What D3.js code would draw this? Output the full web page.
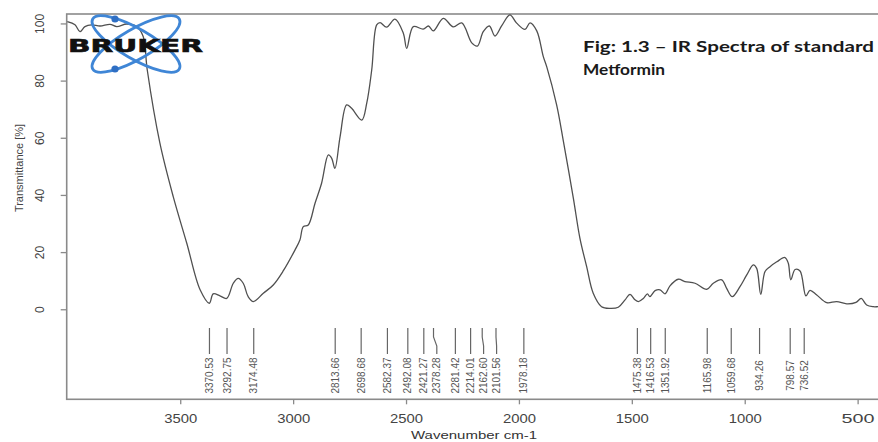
<!DOCTYPE html>
<html>
<head>
	<meta charset="utf-8">
	<script type="text/javascript" src="https://d3js.org/d3.v7.min.js"></script>
	<title>IR Spectra - Metformin</title>
	<style>
		body { margin: 0; background: #fff; }
	</style>
</head>
<body>
<script type="text/javascript">

	/*------ data ------*/

	var wavenumber = [4000, 3966, 3944, 3922, 3892, 3855, 3811, 3781, 3737, 3693, 3664, 3646, 3590, 3531, 3471, 3412,
		3371, 3354, 3324, 3294, 3265, 3243, 3221, 3199, 3176, 3132, 3088, 3044, 2992, 2970, 2955, 2933, 2903, 2874,
		2844, 2829, 2815, 2792, 2763, 2741, 2696, 2674, 2652, 2630, 2615, 2586, 2549, 2512, 2497, 2468, 2424, 2401,
		2379, 2335, 2291, 2253, 2209, 2184, 2158, 2131, 2106, 2076, 2040, 2010, 1973, 1951, 1921, 1892, 1877, 1833,
		1804, 1759, 1730, 1700, 1671, 1634, 1597, 1560, 1530, 1508, 1486, 1471, 1449, 1431, 1420, 1397, 1375, 1353,
		1331, 1294, 1265, 1220, 1168, 1139, 1102, 1080, 1055, 1021, 991, 962, 947, 929, 910, 888, 858, 822, 807, 796,
		777, 755, 729, 711, 681, 637, 593, 548, 507, 484, 460, 431, 410, 400];

	var transmittance = [100.6, 99.5, 97.1, 98.9, 99.5, 99.1, 99.7, 98.9, 99.8, 98.9, 95.4, 83.7, 58.1, 39.4, 23.1, 6.8,
		2.1, 5.4, 4.7, 3.8, 9.1, 10.8, 9.1, 4.4, 2.7, 5.6, 8.5, 13.4, 20.7, 24.2, 28.9, 29.5, 37.1, 44.1,
		54.0, 52.8, 49.3, 60.4, 71.5, 70.3, 66.2, 72.1, 83.7, 99.5, 100.3, 98.7, 101.5, 96.6, 91.3, 98.9, 98.0, 99.1,
		97.4, 101.8, 98.8, 100.2, 93.2, 92.1, 97.1, 99.1, 95.6, 99.2, 103.0, 100.1, 97.9, 100.2, 97.4, 88.4, 84.9, 71.5,
		59.2, 38.9, 24.9, 14.9, 5.6, 0.9, 0.3, 0.7, 3.3, 5.2, 3.3, 2.7, 3.8, 5.4, 4.4, 6.5, 6.8, 5.4,
		8.2, 10.5, 9.7, 9.1, 7.0, 9.1, 10.3, 7.3, 4.4, 7.9, 12.0, 15.5, 14.3, 5.2, 13.2, 14.9, 16.6, 18.1, 16.1, 10.3,
		13.9, 13.4, 4.7, 6.6, 5.0, 2.3, 2.7, 1.9, 2.4, 3.8, 1.5, 0.9, 0.9, 0.9];

	var peaks = [3370.53, 3292.75, 3174.48, 2813.66, 2698.68, 2582.37, 2492.08, 2421.27, 2378.28, 2281.42, 2214.01,
		2162.60, 2101.56, 1978.18, 1475.38, 1416.53, 1351.92, 1165.98, 1059.68, 934.26, 798.57, 736.52];

	var xTicks = [3500, 3000, 2500, 2000, 1500, 1000, 500];
	var yTicks = [0, 20, 40, 60, 80, 100];

	var titleLines = ['Fig: 1.3 \u2013 IR Spectra of standard', 'Metformin'];

	/*------ layout ------*/

	var svgWidth = 878;
	var svgHeight = 442;
	var plotLeft = 66.7, plotRight = 880.2, plotTop = 14, plotBottom = 399.3;

	var xScale = d3.scaleLinear().domain([4002.8, 400]).range([plotLeft, plotRight]);
	var yScale = d3.scaleLinear().domain([-31.5, 103.3]).range([plotBottom, plotTop]);

	var svg = d3.select('body')
		.append('svg')
		.attr('width', svgWidth)
		.attr('height', svgHeight)
		.style('font-family', '"Liberation Sans", Arial, sans-serif');

	svg.append('clipPath').attr('id', 'plotclip')
		.append('rect')
		.attr('x', plotLeft).attr('y', plotTop)
		.attr('width', plotRight - plotLeft).attr('height', plotBottom - plotTop);

	renderFrame();
	renderAxes();
	renderSpectrum();
	renderPeaks();
	renderLogo();
	renderTitle();

	function renderFrame() {
		svg.append('rect')
			.attr('x', plotLeft).attr('y', plotTop)
			.attr('width', plotRight - plotLeft).attr('height', plotBottom - plotTop)
			.attr('fill', 'none')
			.attr('stroke', '#8a8a8a')
			.attr('stroke-width', 1.6);
	}

	function renderAxes() {
		var xAxis = svg.append('g')
			.attr('transform', 'translate(0,' + plotBottom + ')')
			.call(d3.axisBottom(xScale).tickValues(xTicks).tickSize(5).tickFormat(d3.format('d')));
		xAxis.select('.domain').remove();
		xAxis.selectAll('line').attr('stroke', '#8a8a8a').attr('stroke-width', 1.3);
		xAxis.selectAll('text')
			.attr('y', 14)
			.attr('fill', '#444')
			.attr('font-size', 13)
			.attr('font-family', '"Liberation Sans", Arial, sans-serif')
			.attr('textLength', 33)
			.attr('lengthAdjust', 'spacingAndGlyphs');

		var yAxis = svg.append('g')
			.attr('transform', 'translate(' + plotLeft + ',0)')
			.call(d3.axisLeft(yScale).tickValues(yTicks).tickSize(6));
		yAxis.select('.domain').remove();
		yAxis.selectAll('line').attr('stroke', '#8a8a8a').attr('stroke-width', 1.3);
		yAxis.selectAll('text')
			.attr('x', null).attr('dy', null)
			.attr('transform', 'translate(-27,0) rotate(-90)')
			.attr('text-anchor', 'middle')
			.attr('dominant-baseline', 'central')
			.attr('fill', '#444')
			.attr('font-size', 12)
			.attr('font-family', '"Liberation Sans", Arial, sans-serif');

		svg.append('text')
			.attr('x', 474).attr('y', 438.5)
			.attr('text-anchor', 'middle')
			.attr('font-size', 11.5)
			.attr('fill', '#333')
			.attr('textLength', 126)
			.attr('lengthAdjust', 'spacingAndGlyphs')
			.text('Wavenumber cm-1');

		svg.append('text')
			.attr('transform', 'translate(19,168) rotate(-90)')
			.attr('text-anchor', 'middle')
			.attr('dominant-baseline', 'central')
			.attr('font-size', 11)
			.attr('fill', '#444')
			.text('Transmittance [%]');
	}

	function renderSpectrum() {
		var points = wavenumber.map(function (w, i) { return [w, transmittance[i]]; });
		var line = d3.line()
			.x(function (d) { return xScale(d[0]); })
			.y(function (d) { return yScale(d[1]); })
			.curve(d3.curveCatmullRom.alpha(0.5));
		svg.append('path')
			.datum(points)
			.attr('clip-path', 'url(#plotclip)')
			.attr('d', line)
			.attr('fill', 'none')
			.attr('stroke', '#505050')
			.attr('stroke-width', 1.3)
			.attr('stroke-linejoin', 'round');
	}

	function renderPeaks() {
		// push labels apart when peaks are too close, like the instrument software does
		var minGap = 13;
		var items = peaks.map(function (p) { return { value: p, x: xScale(p) }; })
			.sort(function (a, b) { return a.x - b.x; });
		items.forEach(function (d, i) {
			d.lx = i === 0 ? d.x : Math.max(d.x, items[i - 1].lx + minGap);
		});

		var g = svg.append('g');
		g.selectAll('path')
			.data(items)
			.enter()
			.append('path')
			.attr('d', function (d) {
				return 'M' + d.x + ',328 V337 L' + d.lx + ',346 V354';
			})
			.attr('fill', 'none')
			.attr('stroke', '#666')
			.attr('stroke-width', 1.2);

		g.selectAll('text')
			.data(items)
			.enter()
			.append('text')
			.attr('transform', function (d) { return 'translate(' + d.lx + ',375.5) rotate(-90)'; })
			.attr('text-anchor', 'middle')
			.attr('dominant-baseline', 'central')
			.attr('font-size', 10)
			.attr('fill', '#555')
			.text(function (d) { return d.value.toFixed(2); });
	}

	function renderLogo() {
		var logo = svg.append('g').attr('transform', 'translate(136,44)');
		[-30, 30].forEach(function (a) {
			logo.append('ellipse')
				.attr('rx', 50).attr('ry', 15)
				.attr('transform', 'rotate(' + a + ')')
				.attr('fill', 'none')
				.attr('stroke', '#3f86d6')
				.attr('stroke-width', 2.8);
		});
		logo.append('circle').attr('cx', -21).attr('cy', -25).attr('r', 3.6).attr('fill', '#2f6fc4');
		logo.append('circle').attr('cx', -21).attr('cy', 25).attr('r', 3.6).attr('fill', '#2f6fc4');

		svg.append('text')
			.attr('x', 68).attr('y', 51.5)
			.attr('font-family', '"DejaVu Sans", sans-serif')
			.attr('font-weight', 'bold')
			.attr('font-size', 17)
			.attr('fill', '#111')
			.attr('stroke', '#111')
			.attr('stroke-width', 0.6)
			.attr('textLength', 135)
			.attr('lengthAdjust', 'spacingAndGlyphs')
			.text('BRUKER');
	}

	function renderTitle() {
		svg.selectAll('.title')
			.data(titleLines)
			.enter()
			.append('text')
			.attr('class', 'title')
			.attr('x', 583)
			.attr('y', function (d, i) { return 52 + i * 22.5; })
			.attr('font-family', 'Lato, "Open Sans", sans-serif')
			.attr('font-weight', 'bold')
			.attr('font-size', 16)
			.attr('fill', '#1a1a1a')
			.attr('textLength', function (d, i) { return i === 0 ? 291 : 82; })
			.attr('lengthAdjust', 'spacingAndGlyphs')
			.text(function (d) { return d; });
	}

</script>
</body>
</html>
